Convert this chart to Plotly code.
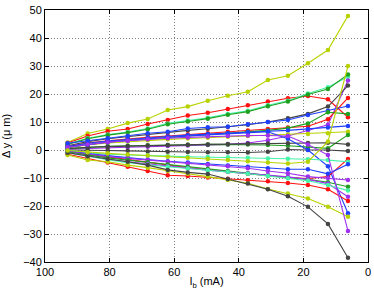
import plotly.graph_objects as go

# bias current (mA)
x_ib = [93, 86.8, 80.6, 74.4, 68.2, 62, 55.8, 49.6, 43.4, 37.2, 31, 24.8, 18.6, 12.4, 6.2]

RED = "#ff1010"
YG = "#b8d200"
AQ = "#44f5a8"
BLUE = "#2040ff"
PURP = "#a030f0"
GREEN = "#20a020"
GRAY = "#444444"

s01 = [2.7, 5.9, 7.5, 9.6, 11.1, 14.3, 15.5, 17.6, 19.4, 20.8, 25.0, 26.5, 31.0, 35.7, 47.9]
s02 = [2.5, 5.0, 6.7, 7.5, 9.3, 10.7, 12.3, 13.3, 14.6, 16.0, 17.3, 18.5, 19.3, 18.1, 11.7]
s03 = [2.2, 4.2, 5.5, 6.4, 7.7, 9.5, 10.5, 11.5, 12.9, 14.0, 16.0, 17.6, 20.2, 22.4, 26.2]
s04 = [2.0, 4.0, 5.3, 6.2, 7.4, 9.2, 10.2, 11.2, 12.6, 13.7, 15.6, 17.3, 19.8, 21.8, 27.0]
s05 = [0.3, 0.6, 0.8, 1.0, 1.2, 1.4, 1.6, 1.8, 2.0, 2.5, 3.5, 5.0, 7.0, 9.0, 24.8]
s06 = [1.5, 3.0, 4.0, 4.8, 5.5, 6.2, 7.0, 7.6, 8.3, 9.0, 10.0, 11.3, 12.9, 15.5, 23.0]
s07 = [1.2, 2.5, 3.3, 4.0, 4.5, 5.0, 5.5, 6.0, 6.5, 7.0, 7.5, 8.0, 8.5, 11.0, 18.6]
s08 = [2.4, 3.3, 4.2, 5.0, 6.0, 6.5, 7.7, 8.1, 8.3, 9.2, 10.0, 10.7, 12.5, 14.0, 15.7]
s09 = [1.0, 2.0, 2.8, 3.4, 4.0, 4.5, 5.0, 5.5, 6.0, 6.5, 7.0, 7.8, 9.5, 13.5, 12.9]
s10 = [1.2, 2.4, 3.2, 3.8, 4.4, 4.8, 5.3, 5.7, 6.0, 6.3, 6.7, 7.0, 7.5, 8.0, 8.6]
s11 = [0.8, 1.8, 2.5, 3.0, 3.5, 3.8, 4.1, 4.4, 4.7, 5.0, 5.3, 5.5, 5.7, 6.0, 6.5]
s12 = [0.5, 1.0, 1.3, 1.5, 1.7, 1.8, 1.9, 2.0, 2.0, 2.0, 1.8, 1.5, 1.0, 0.6, 5.4]
s13 = [0.5, 1.0, 1.2, 1.4, 1.6, 1.8, 1.9, 2.0, 2.1, 2.2, 2.3, 2.4, 2.5, 2.6, 2.0]
s14 = [0.0, 0.0, -0.2, -0.3, -0.5, -0.6, -0.7, -0.8, -0.8, -0.9, -0.6, 0.2, 0.0, 0.0, -0.4]
s15 = [1.0, 2.0, 2.8, 3.4, 4.0, 4.5, 5.0, 5.4, 5.8, 6.2, 6.5, 4.0, 0.0, -5.8, -22.6]
s16 = [-0.5, -1.5, -2.5, -3.5, -4.5, -5.5, -6.3, -7.0, -7.8, -8.5, -9.2, -9.8, -10.2, -9.5, -3.2]
s17 = [0.0, -1.0, -1.5, -1.8, -2.0, -2.2, -2.4, -2.5, -2.6, -2.8, -3.0, -3.1, -3.3, -3.6, -4.2]
s18 = [-0.3, -1.3, -2.0, -2.8, -3.4, -4.0, -4.5, -5.0, -5.5, -6.0, -6.5, -6.9, -6.9, -8.5, -5.1]
s19 = [-0.5, -1.5, -2.3, -3.0, -3.6, -4.2, -4.8, -5.3, -5.8, -6.5, -7.5, -8.3, -9.5, -10.0, -10.7]
s20 = [-0.7, -1.8, -2.8, -3.6, -4.4, -5.2, -6.0, -6.8, -7.5, -8.3, -9.0, -9.8, -10.5, -11.5, -13.1]
s21 = [-1.0, -2.2, -3.3, -4.2, -5.0, -5.8, -6.5, -7.2, -7.8, -8.4, -9.0, -9.6, -10.5, -12.0, -16.7]
s22 = [-1.5, -3.0, -4.5, -6.0, -7.5, -9.0, -9.3, -9.8, -10.3, -10.8, -11.2, -11.8, -12.5, -14.0, -18.2]
s23 = [-1.0, -2.3, -3.5, -4.5, -5.3, -6.0, -6.6, -7.2, -7.8, -8.5, -9.3, -10.1, -11.0, -12.5, -14.5]
s24 = [-1.8, -3.6, -4.2, -5.4, -6.3, -7.5, -8.5, -9.5, -10.7, -11.9, -13.9, -15.5, -17.3, -20.3, -23.8]
s25 = [-1.0, -2.2, -3.2, -4.2, -5.4, -7.1, -8.0, -8.6, -10.4, -12.0, -14.0, -16.5, -20.3, -26.4, -38.5]
s26 = [1.0, 2.0, 2.8, 3.3, 3.8, 4.2, 4.5, 4.8, 5.0, 5.2, 5.2, 5.0, 2.0, -1.8, -28.9]
s27 = [-0.2, -0.8, -1.2, -1.6, -2.0, -2.4, -2.8, -3.2, -3.6, -4.0, -4.5, -4.8, -4.2, 3.0, 30.0]

series = [
    (s01, YG), (s02, RED), (s03, AQ), (s04, GREEN), (s05, PURP), (s06, GRAY),
    (s07, RED), (s08, BLUE), (s09, GREEN), (s10, BLUE), (s11, YG), (s12, GREEN),
    (s13, GRAY), (s14, GRAY), (s15, BLUE), (s16, RED), (s17, AQ), (s18, BLUE),
    (s19, PURP), (s20, GREEN), (s21, PURP), (s22, RED), (s23, AQ), (s24, YG),
    (s25, GRAY), (s26, PURP), (s27, YG),
]

fig = go.Figure()
for ys, col in series:
    fig.add_trace(go.Scatter(
        x=x_ib, y=ys, mode="lines+markers",
        line=dict(color=col, width=1.1),
        marker=dict(color=col, size=4.5, symbol="circle"),
        showlegend=False, hoverinfo="skip",
    ))

font = dict(family="Liberation Sans, Arial, sans-serif", size=11, color="black")
fig.update_layout(
    width=374, height=298,
    margin=dict(l=45, r=6, t=10, b=36, autoexpand=False),
    paper_bgcolor="white", plot_bgcolor="white",
    font=font,
)
fig.update_xaxes(
    range=[100, 0], tickmode="array", tickvals=[100, 80, 60, 40, 20, 0],
    automargin=False,
    showline=True, linecolor="black", linewidth=1, mirror="ticks",
    ticks="inside", ticklen=4, tickcolor="black",
    showgrid=True, gridcolor="#808080", griddash="1px,2px", gridwidth=1,
    zeroline=False,
    title=dict(text="I<sub>b</sub> (mA)", standoff=0, font=font),
)
fig.update_yaxes(
    range=[-40, 50], tickmode="array", tickvals=list(range(-40, 51, 10)),
    automargin=False,
    showline=True, linecolor="black", linewidth=1, mirror="ticks",
    ticks="inside", ticklen=4, tickcolor="black",
    showgrid=True, gridcolor="#808080", griddash="1px,2px", gridwidth=1,
    zeroline=False,
    title=dict(text="Δ y (μ m)", standoff=10, font=font),
)
fig.write_html(
    "out.html",
    config={"displayModeBar": False, "staticPlot": True},
    post_script="document.body.style.margin='0';document.body.style.overflow='hidden';",
)
